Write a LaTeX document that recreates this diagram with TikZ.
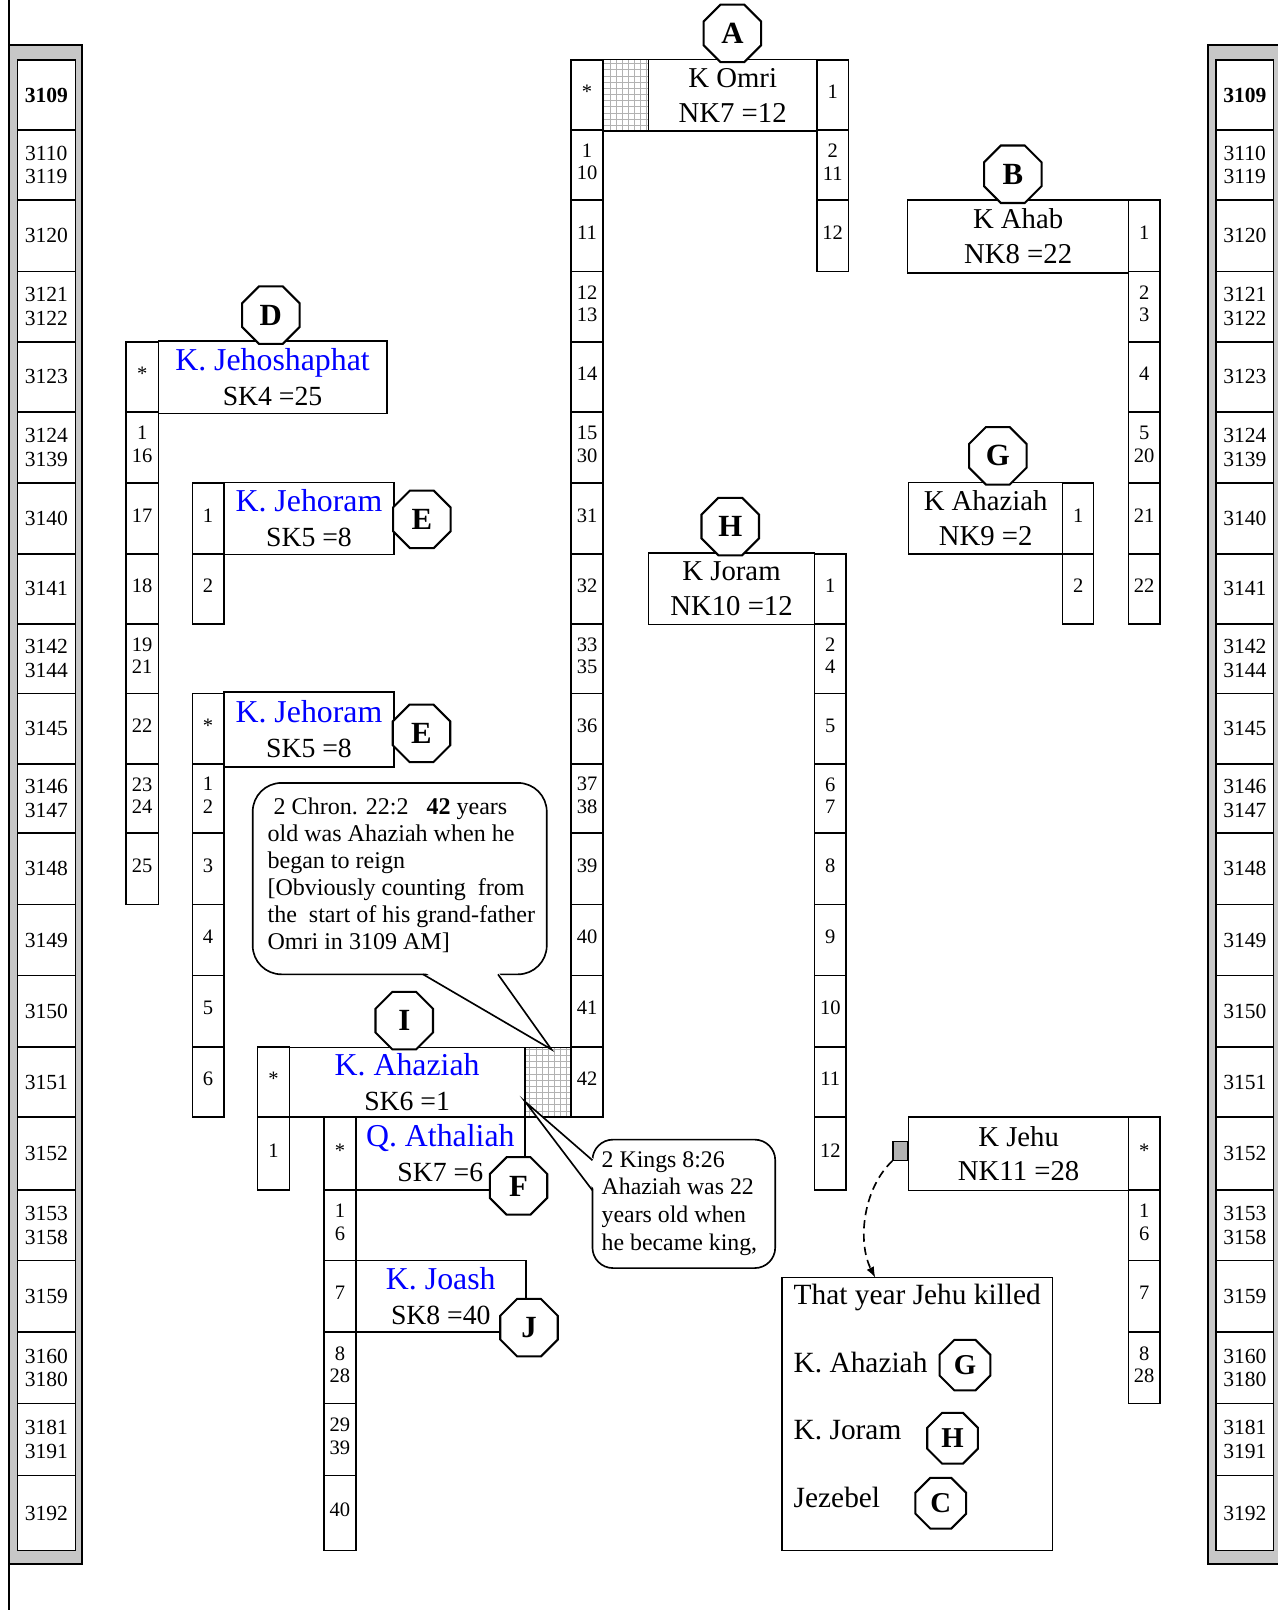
\documentclass[tikz,border=0pt]{standalone}
\usepackage{fontspec}
\setmainfont{Liberation Serif}
\usetikzlibrary{calc,patterns,shapes.geometric}
\def\rowy{{58.5,126.5,195,264.5,333,401,470.5,539.5,607.5,675.5,744,811.5,881,950,1019.5,1088,1159,1227.5,1297.5,1367,1437,1510}}
\def\cellcol[#1](#2:#3)(#4)#5#6{\foreach \txt [count=\i from #4] in {#6} {\pgfmathsetmacro\ya{\rowy[\i]}\pgfmathsetmacro\yb{\rowy[\i+1]}\draw (#2,\ya) rectangle (#3,\yb); \node[#1] (#5-\i) at ({(#2+#3)/2},{(\ya+\yb)/2}) {\txt};}}
\def\kingbox[#1](#2,#3)(#4,#5)#6#7{\draw (#2,#3) rectangle (#4,#5); \node[#1] (#6) at ({(#2+#4)/2},{(#3+#5)/2}) {#7};}
\def\sklabel#1#2{\textcolor{blue}{#1}\\{\fontsize{13.5}{17}\selectfont #2}}

\begin{document}
\begin{tikzpicture}[x=0.5pt,y=-0.5pt,line width=0.8pt,
	cellnum/.style={align=center,inner sep=0pt,yshift=1.5pt,font=\fontsize{10}{11}\selectfont},
	yrnum/.style={align=center,inner sep=0pt,font=\fontsize{10.5}{11.5}\selectfont},
	nklbl/.style={align=center,inner sep=0pt,font=\fontsize{14}{17}\selectfont},
	sklbl/.style={align=center,inner sep=0pt,font=\fontsize{15.5}{17}\selectfont},
	oct/.style={draw,fill=white,line width=1pt,regular polygon,regular polygon sides=8,minimum size=30.3pt,inner sep=0pt,font=\fontsize{15}{15}\selectfont\bfseries},
	octsm/.style={oct,minimum size=26.7pt,font=\fontsize{14}{14}\selectfont\bfseries},
	note/.style={align=left,inner sep=0pt,font=\fontsize{11.7}{13.2}\selectfont},
	killtxt/.style={inner sep=0pt,font=\fontsize{14.3}{17}\selectfont},
	hatch/.style={pattern=grid,pattern color=black!30}]
		\useasboundingbox (0,0) rectangle (1243.7,1568);
		%%%%% START %%%%%
		% year columns
		\draw (8.8,0) -- (8.8,1568);
		\draw[fill=black!22] (8.8,44) rectangle (80,1523);
		\draw[fill=white] (16.9,58.5) rectangle (73.4,1510);
		\cellcol[yrnum](16.9:73.4)(0){yl}{{\textbf{3109}},{3110\\3119},3120,{3121\\3122},3123,{3124\\3139},3140,3141,{3142\\3144},3145,{3146\\3147},3148,3149,3150,3151,3152,{3153\\3158},3159,{3160\\3180},{3181\\3191},3192}
		
		\draw[fill=black!22] (1176.5,44) rectangle (1250,1523);
		\draw[fill=white] (1184.3,58.5) rectangle (1240.4,1510);
		\cellcol[yrnum](1184.3:1240.4)(0){yr}{{\textbf{3109}},{3110\\3119},3120,{3121\\3122},3123,{3124\\3139},3140,3141,{3142\\3144},3145,{3146\\3147},3148,3149,3150,3151,3152,{3153\\3158},3159,{3160\\3180},{3181\\3191},3192}
		
		% north kings
		\cellcol[cellnum](556.3:587.1)(0){oml}{*,{1\\10},11,{12\\13},14,{15\\30},31,32,{33\\35},36,{37\\38},39,40,41,42}
		\draw[hatch] (587.1,57.8) rectangle (631.6,127.6);
		\kingbox[nklbl](631.6,57.8)(795.6,127.6){omri}{K Omri\\NK7 =12}
		\cellcol[cellnum](795.6:826.4)(0){omr}{1,{2\\11},12}
		\node[oct] (octA) at (713.3,32.5) {A};
		
		\kingbox[nklbl](883.9,194.8)(1099.2,265.6){ahab}{K Ahab\\NK8 =22}
		\cellcol[cellnum](1099.2:1129.5)(2){ahb}{1,{2\\3},4,{5\\20},21,22}
		\node[oct] (octB) at (986.4,169.7) {B};
		
		\kingbox[nklbl](884.9,469.9)(1034.9,539.7){ahazn}{K Ahaziah\\NK9 =2}
		\cellcol[cellnum](1034.9:1065.1)(6){ahz}{1,2}
		\node[oct] (octG) at (971.8,443.9) {G};
		
		\kingbox[nklbl](631.6,538.4)(793.3,608.2){joram}{K Joram\\NK10 =12}
		\cellcol[cellnum](793.3:824.1)(7){jor}{1,{2\\4},5,{6\\7},8,9,10,11,12}
		\node[oct] (octH) at (711.2,512.8) {H};
		
		\kingbox[nklbl](884.9,1087.8)(1099.2,1159.3){jehu}{K Jehu\\NK11 =28}
		\cellcol[cellnum](1099.2:1129.5)(15){jeh}{*,{1\\6},7,{8\\28}}
		\node[draw,fill=black!30,line width=0.6pt,minimum width=7.3pt,minimum height=9.2pt,inner sep=0pt,anchor=east] (jehusq) at (884.9,1120.8) {};
		
		% south kings
		\cellcol[cellnum](122.7:154.2)(4){jhs}{*,{1\\16},17,18,{19\\21},22,{23\\24},25}
		\kingbox[sklbl](154.2,332.2)(376.7,402.6){jehosh}{\sklabel{K. Jehoshaphat}{SK4 =25}}
		\node[oct] (octD) at (263.8,306.9) {D};
		
		\cellcol[cellnum](187.4:218)(6){jra}{1,2}
		\kingbox[sklbl](218,469.9)(383.8,540){jehoa}{\sklabel{K. Jehoram}{SK5 =8}}
		\node[oct] (octEa) at (410.8,505.8) {E};
		
		\cellcol[cellnum](187.4:218)(9){jrb}{*,{1\\2},3,4,5,6}
		\kingbox[sklbl](218,673.8)(383.8,746.9){jehob}{\sklabel{K. Jehoram}{SK5 =8}}
		\node[oct] (octEb) at (410.5,714.2) {E};
		
		\cellcol[cellnum](250.7:281.9)(14){ahs}{*,1}
		\kingbox[sklbl](281.9,1020.3)(511.1,1087.8){ahazs}{\sklabel{K. Ahaziah}{SK6 =1}}
		\draw[hatch] (511.1,1020.3) rectangle (556.3,1087.8);
		\node[oct] (octI) at (393.7,994) {I};
		
		\cellcol[cellnum](315.6:346.5)(15){ath}{*,{1\\6},7,{8\\28},{29\\39},40}
		\kingbox[sklbl](346.5,1087.8)(511.1,1159){athal}{\sklabel{Q. Athaliah}{SK7 =6}}
		\node[oct] (octF) at (505,1155) {F};
		
		\kingbox[sklbl](346.5,1227.5)(512.1,1297.5){joash}{\sklabel{K. Joash}{SK8 =40}}
		\node[oct] (octJ) at (515.2,1293) {J};
		
		% notes
		\draw[rounded corners=14pt,fill=white] (246.1,762.5) rectangle (532.5,948.9);
		\fill[white] (412,946) -- (537,1022) -- (485,946) -- cycle;
		\draw (412,948.9) -- (537,1022) -- (485,948.9);
		\node[note,anchor=north west] (chron) at (259.8,776) {\hspace*{3pt}2 Chron. 22:2\ \ \ \textbf{42} years\\old was Ahaziah when he\\began to reign\\{[}Obviously counting\ \ from\\the\ \ start of his grand-father\\Omri in 3109 AM]};
		
		\draw[rounded corners=10pt,fill=white] (577,1109.9) rectangle (755,1235);
		\fill[white] (579.5,1130) -- (511.5,1073) -- (579.5,1159.3) -- cycle;
		\draw (577,1130) -- (511.5,1073) -- (577,1159.3);
		\node[note,anchor=north west,font=\fontsize{11.6}{13.5}\selectfont] (kings) at (585.2,1120.5) {2 Kings 8:26\\Ahaziah was 22\\years old when\\he became king,};
		
		\draw (761.5,1244.3) rectangle (1025,1510);
		\coordinate (killtop) at (852.4,1244.3);
		\node[killtxt,anchor=base west] (ktitle) at (772.2,1270.3) {That year Jehu killed};
		\node[killtxt,anchor=base west] (kaha) at (772.2,1336.3) {K. Ahaziah};
		\node[killtxt,anchor=base west] (kjor) at (772.2,1402.2) {K. Joram};
		\node[killtxt,anchor=base west] (kjez) at (772.2,1468.4) {Jezebel};
		\node[octsm] (octGs) at (939.8,1329.5) {G};
		\node[octsm] (octHs) at (927.7,1400.7) {H};
		\node[octsm] (octC) at (916.2,1464) {C};
		
		\draw[dash pattern=on 4pt off 2.5pt,-latex,line width=0.8pt] (jehusq.south west) .. controls (840,1158) and (835,1210) .. (killtop);
		%%%%% END %%%%%
\end{tikzpicture}
\end{document}
